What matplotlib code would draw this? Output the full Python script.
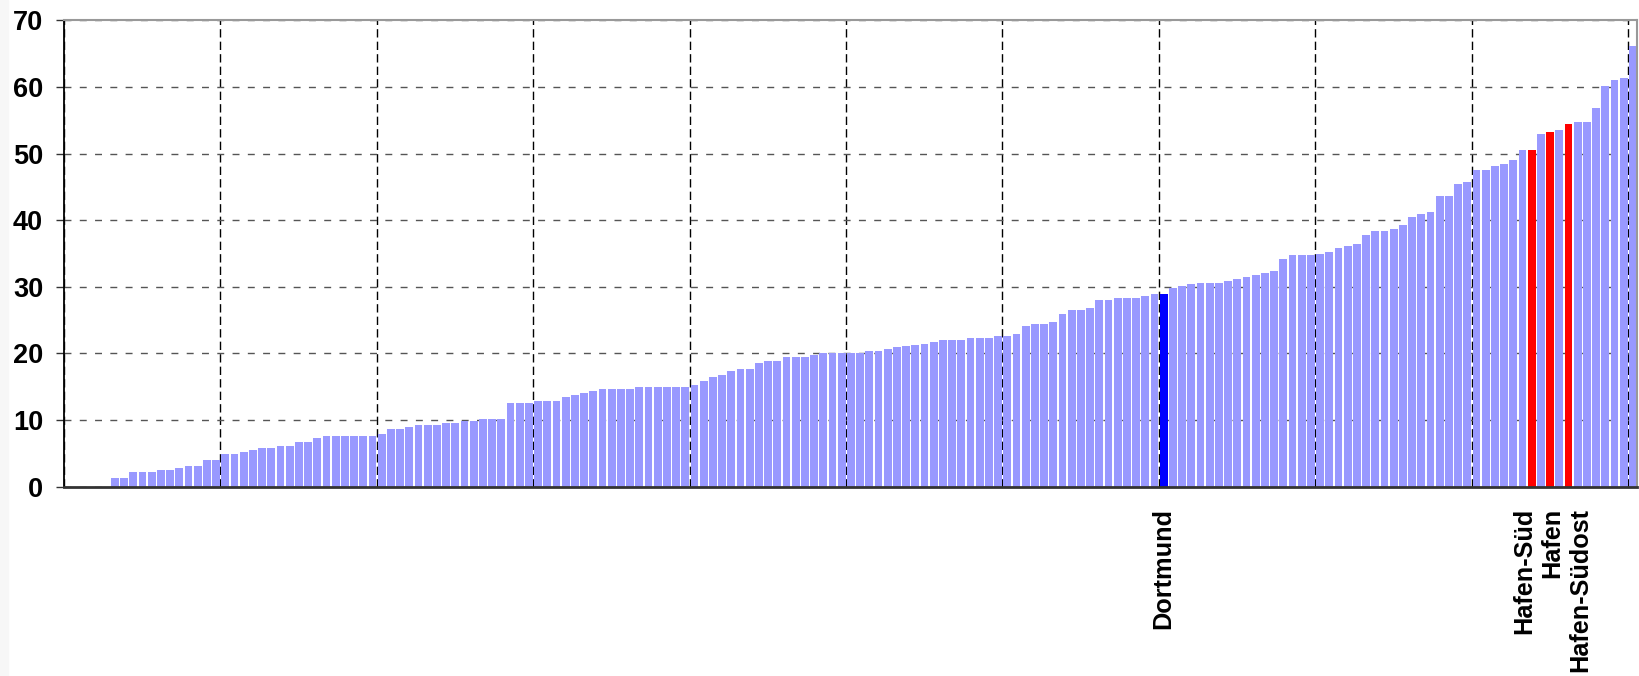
import numpy as np
import matplotlib
matplotlib.use('Agg')
import matplotlib.pyplot as plt
from matplotlib.patches import Rectangle

# values per statistical district, sorted ascending (first 5 have no value)
values = [0, 0, 0, 0, 0,
          1.3, 1.3, 2.2, 2.2, 2.2, 2.5, 2.5, 2.8, 3.1, 3.1,
          4.0, 4.0, 4.9, 4.9, 5.2, 5.5, 5.8, 5.8, 6.1, 6.1,
          6.7, 6.7, 7.3, 7.6, 7.6, 7.6, 7.6, 7.6, 7.6, 7.9,
          8.7, 8.7, 9.0, 9.3, 9.3, 9.3, 9.6, 9.6, 9.9, 9.9,
          10.2, 10.2, 10.2, 12.6, 12.6, 12.6, 12.9, 12.9, 12.9, 13.5,
          13.8, 14.1, 14.4, 14.7, 14.7, 14.7, 14.7, 15.0, 15.0, 15.0,
          15.0, 15.0, 15.0, 15.3, 15.9, 16.5, 16.8, 17.4, 17.7, 17.7,
          18.6, 18.9, 18.9, 19.5, 19.5, 19.5, 19.8, 20.1, 20.1, 20.1,
          20.1, 20.1, 20.4, 20.4, 20.7, 21.0, 21.1, 21.3, 21.4, 21.7,
          22.0, 22.0, 22.0, 22.3, 22.3, 22.3, 22.6, 22.6, 22.9, 24.1,
          24.4, 24.4, 24.7, 25.9, 26.5, 26.5, 26.8, 28.0, 28.0, 28.3,
          28.3, 28.3, 28.6, 28.9, 28.9, 29.8, 30.1, 30.4, 30.5, 30.5,
          30.5, 30.8, 31.1, 31.4, 31.7, 32.0, 32.3, 34.1, 34.7, 34.7,
          34.7, 35.0, 35.3, 35.9, 36.2, 36.5, 37.8, 38.4, 38.4, 38.7,
          39.3, 40.5, 41.0, 41.3, 43.6, 43.6, 45.4, 45.7, 47.5, 47.5,
          48.1, 48.4, 49.0, 50.5, 50.5, 52.9, 53.2, 53.5, 54.4, 54.7,
          54.7, 56.8, 60.2, 61.0, 61.3, 66.1]

highlight_city = [119]              # Dortmund
highlight_red = [159, 161, 163]     # Hafen-Süd, Hafen, Hafen-Südost
label_idx = [119, 159, 161, 163]
label_txt = ['Dortmund', 'Hafen-Süd', 'Hafen', 'Hafen-Südost']
label_shift_px = [0, -7, 2, 12]

plt.rcParams['font.family'] = ['Liberation Sans', 'DejaVu Sans']
plt.rcParams['font.weight'] = 'bold'

n = len(values)
x = np.arange(n)
colors = ['#9999FF'] * n
for i in highlight_city:
    colors[i] = '#0000FF'
for i in highlight_red:
    colors[i] = '#FF0000'

W, H = 1639, 676
fig = plt.figure(figsize=(W / 100, H / 100), dpi=100)
fig.patches.append(Rectangle((0, 0), 8 / W, 1, transform=fig.transFigure,
                             color='#f7f7f7', zorder=-1))
ax = fig.add_axes([64 / W, (H - 486.7) / H, (1637.3 - 64) / W, (486.7 - 20.3) / H])

ax.bar(x + 0.1, values, width=0.85, align='edge', color=colors, linewidth=0, zorder=2)

ax.set_xlim(0, n)
ax.set_ylim(0, 70)
ax.set_axisbelow(True)

ax.set_yticks(np.arange(0, 71, 10))
ax.yaxis.grid(True, color='#555555', linestyle=(0, (5, 6)), linewidth=1.0)
ax.set_xticks(np.arange(0, n, 17))
ax.xaxis.grid(True, color='black', linestyle=(0, (6, 3)), linewidth=1.0)
ax.tick_params(axis='x', length=0, labelbottom=False)
ax.tick_params(axis='y', length=6, width=1.0, color='#333333', pad=9,
               labelsize=19.5)
for t in ax.get_yticklabels():
    t.set_fontweight('bold')

ax.spines['left'].set_color('black')
ax.spines['left'].set_linewidth(1.3)
ax.spines['bottom'].set_color('#333333')
ax.spines['bottom'].set_linewidth(2)
ax.spines['top'].set_color('#999999')
ax.spines['top'].set_linewidth(1.5)
ax.spines['right'].set_color('#999999')
ax.spines['right'].set_linewidth(1.5)

for i, txt, dx in zip(label_idx, label_txt, label_shift_px):
    ax.annotate(txt, xy=(i + 0.525, 0), xycoords='data',
                xytext=(dx * 0.72, -15), textcoords='offset points',
                rotation=90, ha='center', va='top', fontsize=18.2,
                fontweight='bold', annotation_clip=False)

fig.savefig('out.png', dpi=100)
